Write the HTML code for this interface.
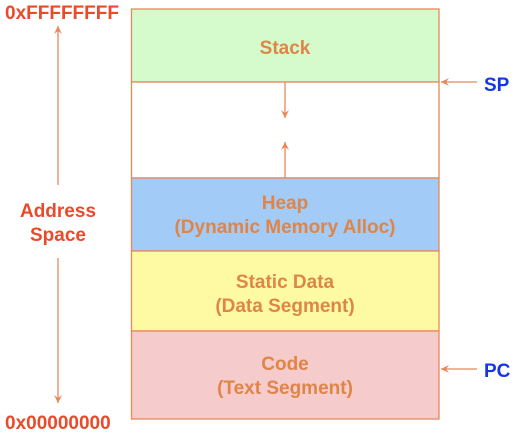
<!DOCTYPE html>
<html><head><style>
body{margin:0;width:515px;height:434px;background:#fff;overflow:hidden}
text{font-family:"Liberation Sans",Arial,sans-serif;font-weight:bold}
</style></head><body>
<svg width="515" height="434" xmlns="http://www.w3.org/2000/svg">
<defs>
<marker id="a" markerWidth="10" markerHeight="10" refX="8" refY="5" orient="auto" markerUnits="userSpaceOnUse">
<path d="M0,1 L8,5 L0,9 L3,5 Z" fill="#e8855a"/></marker>
</defs>
<g stroke="#e8895a" stroke-width="1.3">
<rect x="131.5" y="9" width="307.5" height="73" fill="#d5fbcc"/>
<rect x="131.5" y="82" width="307.5" height="96" fill="#fff"/>
<rect x="131.5" y="178" width="307.5" height="73" fill="#a2cbf7"/>
<rect x="131.5" y="251" width="307.5" height="80" fill="#fdfaa3"/>
<rect x="131.5" y="331" width="307.5" height="88" fill="#f6cbcb"/>
<line x1="285" y1="82" x2="285" y2="118" marker-end="url(#a)"/>
<line x1="285" y1="178" x2="285" y2="142" marker-end="url(#a)"/>
<line x1="58" y1="185" x2="58" y2="26" marker-end="url(#a)"/>
<line x1="58" y1="258" x2="58" y2="403" marker-end="url(#a)"/>
<line x1="477" y1="82" x2="441" y2="82" marker-end="url(#a)"/>
<line x1="477" y1="369" x2="441" y2="369" marker-end="url(#a)"/>
</g>
<g fill="#e08548" font-size="19" text-anchor="middle">
<text x="285" y="54">Stack</text>
<text x="285" y="209">Heap</text>
<text x="285" y="233">(Dynamic Memory Alloc)</text>
<text x="285" y="288">Static Data</text>
<text x="285" y="312">(Data Segment)</text>
<text x="285" y="370">Code</text>
<text x="285" y="394">(Text Segment)</text>
</g>
<g fill="#ea4a2a" font-size="19">
<text x="5" y="19">0xFFFFFFFF</text>
<text x="5" y="429">0x00000000</text>
<text x="58" y="217" text-anchor="middle">Address</text>
<text x="58" y="241" text-anchor="middle">Space</text>
</g>
<g fill="#1535e8" font-size="19">
<text x="484" y="91">SP</text>
<text x="484" y="377">PC</text>
</g>
</svg>
</body></html>
